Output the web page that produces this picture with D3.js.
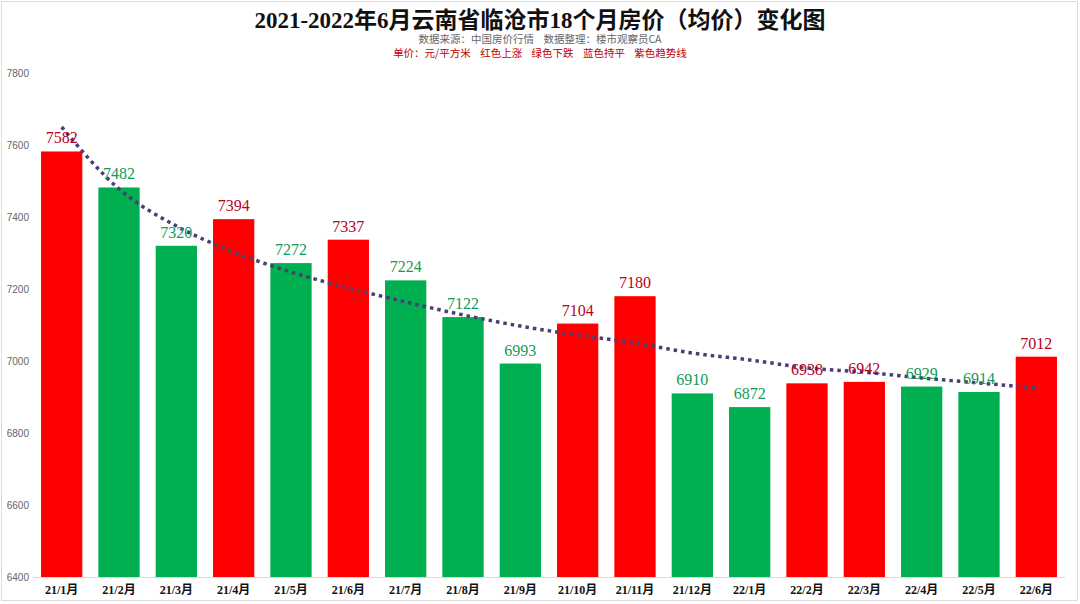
<!DOCTYPE html>
<meta charset="utf-8">
<script src="https://d3js.org/d3.v7.min.js"></script>
<style>
body { margin: 0; background: #fff; }
svg { display: block; }
.title { font-family: "Liberation Serif", "Noto Sans CJK SC", serif; font-weight: bold; }
.sub { font-family: "Noto Sans CJK SC", sans-serif; }
.val { font-family: "Liberation Serif", serif; }
.xlab { font-family: "Liberation Serif", "Noto Sans CJK SC", serif; font-weight: bold; }
</style>
<body>
</body>
<script>

// months and average price (元/平方米)
var months = ["21/1月","21/2月","21/3月","21/4月","21/5月","21/6月","21/7月","21/8月","21/9月",
  "21/10月","21/11月","21/12月","22/1月","22/2月","22/3月","22/4月","22/5月","22/6月"];
var prices = [7582,7482,7320,7394,7272,7337,7224,7122,6993,7104,7180,6910,6872,6938,6942,6929,6914,7012];
// trend line values
var trend = [7650,7478,7375,7303,7247,7203,7164,7128,7097,7072,7050,7022,7003,6981,6969,6953,6939,6925];
var yTicks = [6400,6600,6800,7000,7200,7400,7600,7800];

var width = 1080, height = 604;

var svg = d3.select("body").append("svg")
  .attr("width", width)
  .attr("height", height);

// frame
svg.append("rect")
  .attr("x", 1.5).attr("y", 1.5)
  .attr("width", 1076).attr("height", 599)
  .attr("fill", "none").attr("stroke", "#dcdcdc");

var xScale = d3.scaleBand()
  .domain(months)
  .range([33, 1065])
  .paddingInner(0.28)
  .paddingOuter(0.14);

var yScale = d3.scaleLinear()
  .domain([6400, 7800])
  .range([577, 73]);

// up = red, down = green (first month counted as up)
function isUp(i) { return i === 0 || prices[i] > prices[i - 1]; }

// title block
svg.append("text").attr("class", "title")
  .attr("x", 540).attr("y", 28)
  .attr("text-anchor", "middle")
  .attr("font-size", 23)
  .attr("fill", "#111")
  .text("2021-2022年6月云南省临沧市18个月房价（均价）变化图");

svg.append("text").attr("class", "sub")
  .attr("x", 540).attr("y", 43)
  .attr("text-anchor", "middle")
  .attr("font-size", 10.5)
  .attr("fill", "#666")
  .attr("xml:space", "preserve")
  .text("数据来源：中国房价行情    数据整理：楼市观察员CA");

svg.append("text").attr("class", "sub")
  .attr("x", 540).attr("y", 57)
  .attr("text-anchor", "middle")
  .attr("font-size", 10.5)
  .attr("fill", "#c00000")
  .attr("xml:space", "preserve")
  .text("单价：元/平方米    红色上涨    绿色下跌    蓝色持平    紫色趋势线");

// y axis
var yAxis = d3.axisLeft(yScale).tickValues(yTicks).tickSize(0).tickPadding(4).tickFormat(d3.format("d"));
var gy = svg.append("g")
  .attr("transform", "translate(33,0)")
  .call(yAxis);
gy.select(".domain").remove();
gy.selectAll("text")
  .attr("font-family", "Liberation Sans, Arial, sans-serif")
  .attr("font-size", 10)
  .attr("fill", "#666");

// bars
svg.selectAll(".bar")
  .data(prices).enter().append("rect")
  .attr("class", "bar")
  .attr("x", function(d, i) { return xScale(months[i]); })
  .attr("y", function(d) { return yScale(d); })
  .attr("width", xScale.bandwidth())
  .attr("height", function(d) { return yScale(6400) - yScale(d); })
  .attr("fill", function(d, i) { return isUp(i) ? "#ff0000" : "#00b050"; });

// x axis
var xAxis = d3.axisBottom(xScale).tickSize(0).tickPadding(8);
var gx = svg.append("g")
  .attr("transform", "translate(0,577)")
  .call(xAxis);
gx.select(".domain").attr("stroke", "#d9d9d9").attr("d", "M33,0.5H1065");
gx.selectAll("text")
  .attr("class", "xlab")
  .attr("font-size", 12)
  .attr("fill", "#111");

// trend line
var line = d3.line()
  .x(function(d, i) { return xScale(months[i]) + xScale.bandwidth() / 2; })
  .y(function(d) { return yScale(d); })
  .curve(d3.curveMonotoneX);

svg.append("path")
  .datum(trend)
  .attr("d", line)
  .attr("fill", "none")
  .attr("stroke", "#4a3f74")
  .attr("stroke-width", 3.5)
  .attr("stroke-dasharray", "3.5,4");

// value labels
svg.selectAll(".val")
  .data(prices).enter().append("text")
  .attr("class", "val")
  .attr("x", function(d, i) { return xScale(months[i]) + xScale.bandwidth() / 2; })
  .attr("y", function(d) { return yScale(d) - 8; })
  .attr("text-anchor", "middle")
  .attr("font-size", 16)
  .attr("fill", function(d, i) { return isUp(i) ? "#b8001f" : "#139a55"; })
  .text(function(d) { return d; });

</script>
